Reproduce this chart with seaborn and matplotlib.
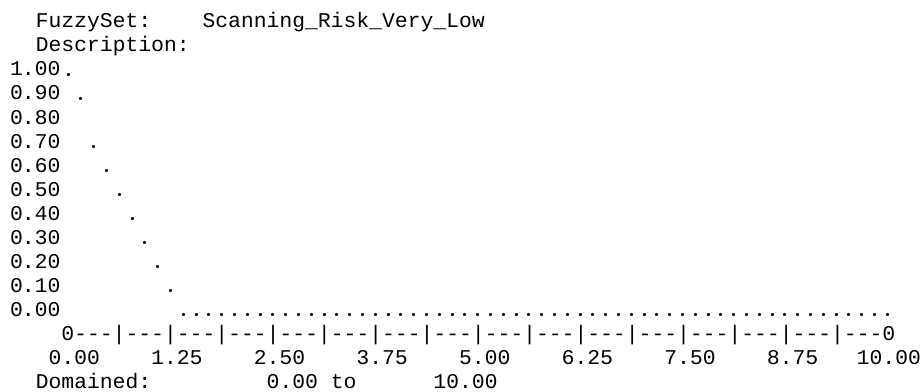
import numpy as np
import pandas as pd
import seaborn as sns
import matplotlib.pyplot as plt

# === DATA ===
set_name = "Scanning_Risk_Very_Low"
domain_min = 0.00
domain_max = 10.00
row_levels = [1.00, 0.90, 0.80, 0.70, 0.60, 0.50, 0.40, 0.30, 0.20, 0.10, 0.00]
x_ticks = [0.00, 1.25, 2.50, 3.75, 5.00, 6.25, 7.50, 8.75, 10.00]
# membership sampled at 65 columns over the domain
membership = [1.0, 0.9, 0.7, 0.6, 0.5, 0.4, 0.3, 0.2, 0.1] + [0.0] * 56
x_samples = np.linspace(domain_min, domain_max, len(membership))

df = pd.DataFrame({"x": x_samples, "mu": membership})

# === LAYOUT (text-console look) ===
W, H = 922, 392
char_w = 12.8          # px per monospace column
col0 = 9.9             # left edge of column 0
line_h = 24.08         # px per text line
base0 = 27.0           # baseline of first line (from top)
fsize = char_w / 0.6 * 72 / 100

sns.set_theme(style="white")
plt.rcParams["font.family"] = ["Liberation Mono", "DejaVu Sans Mono"]
plt.rcParams["text.hinting"] = "no_hinting"

fig = plt.figure(figsize=(W / 100, H / 100), dpi=100)
fig.patch.set_facecolor("white")


def baseline(i):
    return base0 + i * line_h


def put(i, text):
    fig.text(col0 / W, 1 - baseline(i) / H, text, ha="left", va="baseline",
             fontsize=fsize, color="black")


# axes aligned to the character grid: x=0 at col 4, x=10 at col 68
x0_px = col0 + 4.5 * char_w
x1_px = col0 + 68.5 * char_w
y_top = baseline(2) - 1.5
y_bot = baseline(12) - 1.5
ax = fig.add_axes([x0_px / W, 1 - y_bot / H, (x1_px - x0_px) / W, (y_bot - y_top) / H])
ax.set_xlim(domain_min, domain_max)
ax.set_ylim(0, 1)
ax.axis("off")

sns.scatterplot(data=df, x="x", y="mu", ax=ax, color="black", s=5,
                marker="o", linewidth=0, legend=False)
for c in ax.collections:
    c.set_clip_on(False)

# header
put(0, f"  FuzzySet:    {set_name}")
put(1, "  Description:")

# row labels
for k, lv in enumerate(row_levels):
    put(2 + k, f"{lv:.2f}")

# axis line
ncols = len(membership)
axis_chars = [" "] * 4 + ["-"] * ncols
for j in range(0, ncols, 4):
    axis_chars[4 + j] = "|"
axis_chars[4] = "0"
axis_chars[4 + ncols - 1] = "0"
put(13, "".join(axis_chars))

# tick labels: decimal point sits on the tick column
lab = [" "] * 80
for t in x_ticks:
    s = f"{t:.2f}"
    col = 4 + int(round((t - domain_min) / (domain_max - domain_min) * (ncols - 1)))
    start = col - s.index(".")
    for n, ch in enumerate(s):
        lab[start + n] = ch
put(14, "".join(lab).rstrip())

put(15, f"  Domained:  {domain_min:11.2f} to {domain_max:10.2f}")

fig.savefig("out.png", dpi=100, facecolor="white")
